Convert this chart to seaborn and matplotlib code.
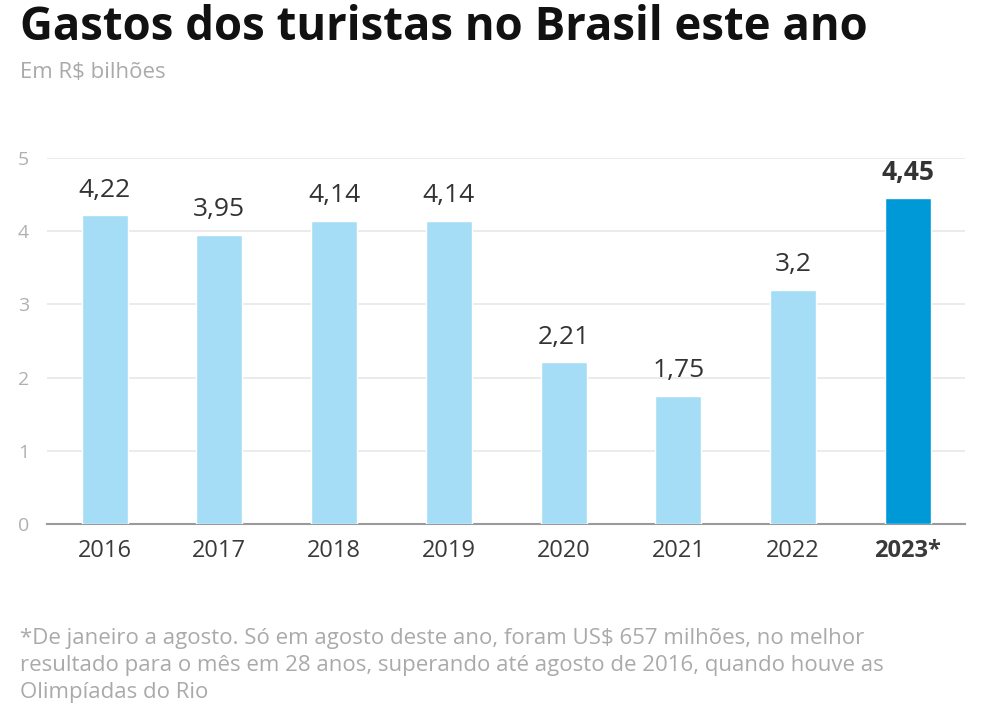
import matplotlib.pyplot as plt
import seaborn as sns
import pandas as pd

# dados
anos = ["2016", "2017", "2018", "2019", "2020", "2021", "2022", "2023*"]
gastos = [4.22, 3.95, 4.14, 4.14, 2.21, 1.75, 3.20, 4.45]
rotulos = ["4,22", "3,95", "4,14", "4,14", "2,21", "1,75", "3,2", "4,45"]
destaque = "2023*"

titulo = "Gastos dos turistas no Brasil este ano"
subtitulo = "Em R$ bilhões"
nota = ("*De janeiro a agosto. Só em agosto deste ano, foram US$ 657 milhões, no melhor\n"
        "resultado para o mês em 28 anos, superando até agosto de 2016, quando houve as\n"
        "Olimpíadas do Rio")

sns.set_style("white")
plt.rcParams['font.family'] = ['Open Sans', 'DejaVu Sans']

df = pd.DataFrame({"ano": anos, "gasto": gastos})
cores = {a: ("#0099d8" if a == destaque else "#a6ddf6") for a in anos}

fig = plt.figure(figsize=(9.84, 7.23), dpi=100)
ax = fig.add_axes([0.048, 0.2753, 0.933, 0.5062])

sns.barplot(data=df, x="ano", y="gasto", hue="ano", palette=cores, legend=False,
            width=0.40, saturation=1, ax=ax, zorder=3)

ax.set_ylim(0, 5)
ax.set_xlim(-0.5, len(anos) - 0.5)
ax.set_yticks(range(0, 6))
ax.yaxis.grid(True, color="#e8e8e8", linewidth=1.2, zorder=0)
ax.set_axisbelow(True)
for s in ["top", "right", "left"]:
    ax.spines[s].set_visible(False)
ax.spines["bottom"].set_color("#9a9a9a")
ax.spines["bottom"].set_linewidth(1.5)
ax.set_xlabel("")
ax.set_ylabel("")
ax.tick_params(axis="y", length=0, labelsize=14, labelcolor="#b0b0b0", pad=13)
ax.tick_params(axis="x", length=0, labelsize=17, labelcolor="#3a3a3a", pad=11)
for lbl in ax.get_xticklabels():
    if lbl.get_text() == destaque:
        lbl.set_fontweight("bold")

for i, (v, r) in enumerate(zip(gastos, rotulos)):
    peso = "bold" if anos[i] == destaque else "normal"
    ax.annotate(r, (i, v), xytext=(0, 9), textcoords="offset points",
                ha="center", va="bottom", fontsize=19, color="#333333",
                fontweight=peso)

fig.text(0.020, 0.962, titulo, fontsize=32.8, fontweight="bold", color="#111111",
         ha="left", va="center")
fig.text(0.020, 0.900, subtitulo, fontsize=16, color="#aaaaaa",
         ha="left", va="center")
fig.text(0.020, 0.131, nota, fontsize=16, color="#aaaaaa", ha="left",
         va="top", linespacing=1.36)

fig.savefig("out.png", dpi=100)
